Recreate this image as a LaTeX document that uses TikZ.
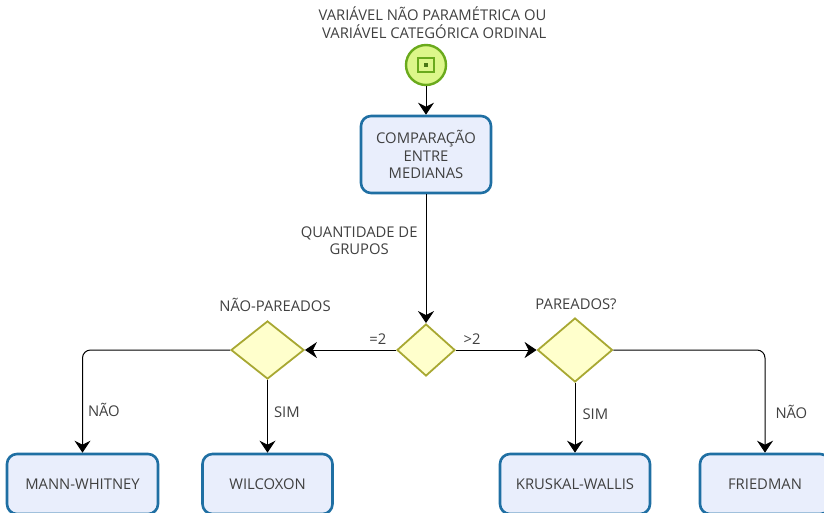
\documentclass[tikz,border=0pt]{standalone}
\usepackage{fontspec}
\setmainfont{Open Sans}
\usetikzlibrary{arrows.meta,shapes.geometric}

\definecolor{boxline}{HTML}{1F6FA3}
\definecolor{boxfill}{HTML}{E9EEFC}
\definecolor{gateline}{HTML}{A8A832}
\definecolor{gatefill}{HTML}{FFFFCC}
\definecolor{startline}{HTML}{6AAA1C}
\definecolor{startfill}{HTML}{DDF78A}
\definecolor{labeltext}{HTML}{404040}

\begin{document}
\begin{tikzpicture}[x=1pt,y=-1pt,>={Stealth[length=12pt,width=16pt,inset=4pt]},
                    line width=1pt,font=\fontsize{14.8}{17.5}\selectfont,
                    text=labeltext]

  \tikzset{
    task/.style={rectangle,draw=boxline,fill=boxfill,line width=2.6pt,
                 rounded corners=10pt,align=center,minimum width=130pt,
                 minimum height=60pt,inner sep=0pt},
    gate/.style={diamond,draw=gateline,fill=gatefill,line width=1.8pt,inner sep=0pt},
    label/.style={align=center,inner sep=0pt}
  }

  \useasboundingbox (0,0) rectangle (824,512);

  \node[circle,draw=startline,fill=startfill,line width=2.4pt,minimum size=40pt,
        inner sep=0pt] (start) at (426,65) {};
  \node[rectangle,draw=startline,line width=1.6pt,minimum width=16pt,minimum height=14.5pt,inner sep=0pt] (icon) at (start) {};
  \node[rectangle,fill=startline!70!black,minimum width=3.5pt,minimum height=4pt,inner sep=0pt] (iconmark) at (icon) {};

  \node[task,minimum height=77pt] (means) [below of=start,node distance=89.5pt]
       {COMPARAÇÃO\\ENTRE\\MEDIANAS};

  \node[gate,minimum width=58pt,minimum height=52pt,aspect=1.115] (groups)
       [below of=means,node distance=195.5pt] {};
  \node[gate,minimum width=73pt,minimum height=58pt,aspect=1.26] (unpaired)
       [left of=groups,node distance=158.5pt] {};
  \node[gate,minimum width=75pt,minimum height=64pt,aspect=1.17] (paired)
       [right of=groups,node distance=149pt] {};

  \node[task,minimum width=151pt] (mann) [below of=unpaired,node distance=134pt,xshift=-185pt] {MANN-WHITNEY};
  \node[task] (wilcoxon) [below of=unpaired,node distance=134pt] {WILCOXON};
  \node[task,minimum width=150pt] (kruskal) [below of=paired,node distance=134pt] {KRUSKAL-WALLIS};
  \node[task] (friedman) [below of=paired,node distance=134pt,xshift=190pt] {FRIEDMAN};

  \node[label,align=right] (title) [above of=start,node distance=42.5pt,xshift=6.5pt]
       {VARIÁVEL NÃO PARAMÉTRICA OU\\VARIÁVEL CATEGÓRICA ORDINAL};
  \node[label] (unpairedlabel) [above of=unpaired,node distance=45pt,xshift=7.5pt] {NÃO-PAREADOS};
  \node[label] (pairedlabel) [above of=paired,node distance=46pt,xshift=1pt] {PAREADOS?};

  \path[draw,->]
  (start) edge (means)
  (means) edge node[label,left=8pt,pos=.36] (grouplabel) {QUANTIDADE DE\\GRUPOS} (groups)
  (groups) edge node[label,above=5pt,pos=.2] (equallabel) {=2} (unpaired)
  (groups) edge node[label,above=5pt,pos=.2] (morelabel) {>2} (paired)
  (unpaired) edge node[label,right=6pt,pos=.45] (simleft) {SIM} (wilcoxon)
  (paired) edge node[label,right=7pt,pos=.45] (simright) {SIM} (kruskal);

  \draw[->,rounded corners=8pt] (unpaired) -| node[label,right=5pt,pos=.79] (naoleft) {NÃO} (mann);
  \draw[->,rounded corners=8pt] (paired) -| node[label,right=10pt,pos=.8] (naoright) {NÃO} (friedman);
\end{tikzpicture}
\end{document}
